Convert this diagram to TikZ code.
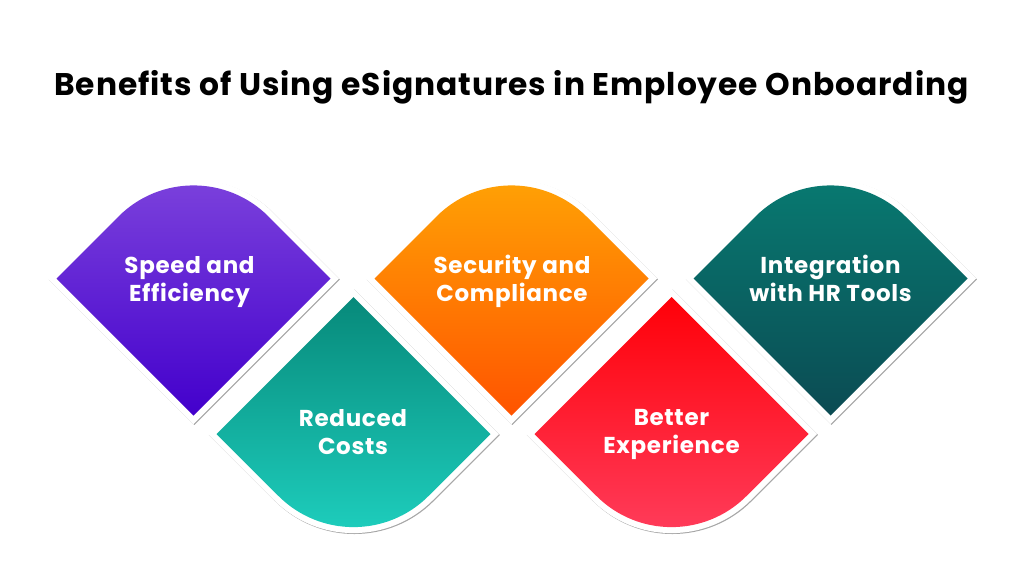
\documentclass[tikz,border=0pt]{standalone}
\usepackage{fontspec}
\setmainfont{Poppins}
\usetikzlibrary{positioning}

\definecolor{speedTop}{HTML}{7C42DC}
\definecolor{speedBot}{HTML}{4300CC}
\definecolor{costTop}{HTML}{07897A}
\definecolor{costBot}{HTML}{1ECFBE}
\definecolor{secTop}{HTML}{FFA305}
\definecolor{secBot}{HTML}{FF5400}
\definecolor{expTop}{HTML}{FF0008}
\definecolor{expBot}{HTML}{FF3D5C}
\definecolor{hrTop}{HTML}{087A71}
\definecolor{hrBot}{HTML}{0B4B53}

% leaf with the round corner on top: x, y, half diagonal, radius
\newcommand{\leafup}[4]{(#1,#2+#3) -- (#1-#3,#2) -- ({#1-0.7071*#4},{#2-#3+0.7071*#4})
  .. controls ({#1-0.3166*#4},{#2-#3+0.3166*#4}) and ({#1+0.3166*#4},{#2-#3+0.3166*#4}) .. ({#1+0.7071*#4},{#2-#3+0.7071*#4})
  -- (#1+#3,#2) -- cycle}
% leaf with the round corner below
\newcommand{\leafdown}[4]{(#1,#2-#3) -- (#1+#3,#2) -- ({#1+0.7071*#4},{#2+#3-0.7071*#4})
  .. controls ({#1+0.3166*#4},{#2+#3-0.3166*#4}) and ({#1-0.3166*#4},{#2+#3-0.3166*#4}) .. ({#1-0.7071*#4},{#2+#3-0.7071*#4})
  -- (#1-#3,#2) -- cycle}

\newcommand{\leaf}[5]{% up/down, x, y, top colour, bottom colour
  \fill[black!35] \csname leaf#1\endcsname{#2+0.9}{#3+0.9}{145.5}{112};
  \fill[white] \csname leaf#1\endcsname{#2}{#3}{145.5}{112};
  \shade[top color=#4, bottom color=#5] \csname leaf#1\endcsname{#2}{#3}{137}{106};
}

\begin{document}
\begin{tikzpicture}[x=1pt, y=-1pt,
    leaftext/.style={text=white, font=\fontsize{23}{28}\selectfont\bfseries\addfontfeatures{LetterSpace=3}, align=center}]
  \useasboundingbox[fill=white] (0,0) rectangle (1024,582);

  \node[font=\fontsize{31.3}{36}\selectfont\bfseries\addfontfeatures{LetterSpace=3}] (title) at (511.5,87) {Benefits of Using eSignatures in Employee Onboarding};

  \leaf{up}{193.5}{278.5}{speedTop}{speedBot}
  \leaf{down}{353.5}{434}{costTop}{costBot}
  \leaf{up}{511.5}{278.5}{secTop}{secBot}
  \leaf{down}{671.5}{434}{expTop}{expBot}
  \leaf{up}{830.5}{278.5}{hrTop}{hrBot}

  \node[leaftext] (speed) at (189.5,282) {Speed and\\Efficiency};
  \node[leaftext] (costs) at (353,432) {Reduced\\Costs};
  \node[leaftext] (security) at (512,281) {Security and\\Compliance};
  \node[leaftext] (experience) at (671.5,434) {Better\\Experience};
  \node[leaftext] (integration) at (830.5,278) {Integration\\with HR Tools};
\end{tikzpicture}
\end{document}
